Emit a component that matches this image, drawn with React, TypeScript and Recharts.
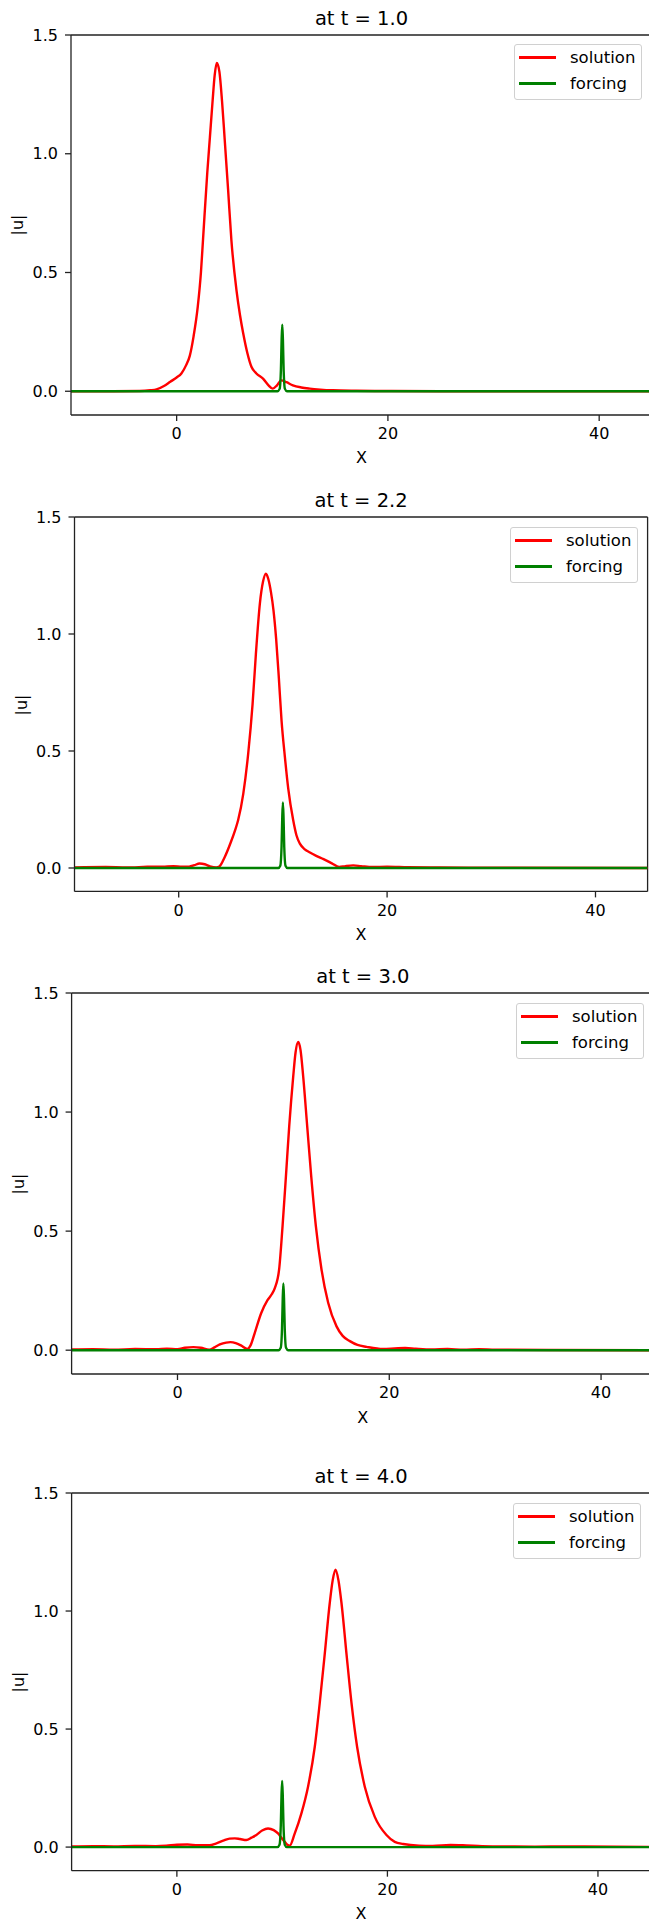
import { LineChart, Line, XAxis, YAxis, ReferenceLine } from 'recharts'

const xTicks = [0, 20, 40]
const yTicks = [0, 0.5, 1.0, 1.5]
const seriesNames = ['solution', 'forcing']
const seriesColors = ['#ff0000', '#008000']
const titles = ['at t = 1.0', 'at t = 2.2', 'at t = 3.0', 'at t = 4.0']

// forcing is the same narrow bump at x = 10 in every panel
const forcingX = [-10, 9.55, 9.75, 9.87, 9.94, 10.0, 10.06, 10.13, 10.25, 10.45, 45]
const forcingU = [0, 0, 0.01, 0.09, 0.22, 0.28, 0.22, 0.09, 0.01, 0, 0]

// t = 1.0
const x1 = [-10, -6, -3.5, -2.5, -1.9, -1.2, -0.6, 0, 0.45, 0.9, 1.25, 1.6, 2.0, 2.3, 2.5, 2.9, 3.15, 3.4, 3.6, 3.8, 4.05, 4.3, 4.55, 4.87, 5.18, 5.66, 6.0, 6.3, 6.7, 7.08, 7.55, 8.2, 8.7, 9.1, 9.5, 9.9, 10.4, 11.0, 11.8, 12.6, 13.6, 14.8, 17, 20, 25, 45]
const u1 = [0, 0, 0.001, 0.004, 0.008, 0.022, 0.04, 0.058, 0.075, 0.11, 0.15, 0.23, 0.356, 0.5, 0.64, 0.92, 1.07, 1.22, 1.33, 1.382, 1.345, 1.22, 1.06, 0.85, 0.638, 0.427, 0.32, 0.244, 0.16, 0.103, 0.075, 0.052, 0.025, 0.011, 0.025, 0.046, 0.038, 0.025, 0.016, 0.011, 0.007, 0.004, 0.002, 0.001, 0, 0]

// t = 2.2
const x2 = [-10, -7, -5, -3, -1.5, -0.5, 0.3, 1.0, 1.5, 2.0, 2.5, 3.0, 3.6, 3.9, 4.4, 5.0, 5.4, 5.7, 6.2, 6.67, 7.09, 7.41, 7.79, 8.1, 8.37, 8.6, 8.85, 9.1, 9.35, 9.6, 9.87, 10.19, 10.51, 10.99, 11.3, 11.63, 12.1, 12.6, 13.2, 13.9, 14.7, 15.4, 16.0, 16.75, 17.5, 18.6, 20, 22, 25, 30, 45]
const u2 = [0.002, 0.004, 0.002, 0.005, 0.006, 0.008, 0.006, 0.006, 0.012, 0.019, 0.016, 0.007, 0.002, 0.006, 0.045, 0.11, 0.16, 0.204, 0.318, 0.489, 0.7, 0.916, 1.13, 1.225, 1.258, 1.235, 1.18, 1.1, 0.98, 0.82, 0.63, 0.475, 0.34, 0.204, 0.14, 0.104, 0.08, 0.066, 0.052, 0.038, 0.02, 0.004, 0.008, 0.011, 0.008, 0.004, 0.005, 0.003, 0.002, 0.001, 0]

// t = 3.0
const x3 = [-10, -8, -6, -4, -2, -1, 0, 0.7, 1.5, 2.2, 3.0, 3.5, 4.0, 4.6, 5.0, 5.5, 6.0, 6.6, 6.9, 7.3, 7.9, 8.5, 8.9, 9.2, 9.6, 9.92, 10.24, 10.55, 10.93, 11.15, 11.4, 11.62, 11.87, 12.25, 12.63, 13.07, 13.6, 14.23, 15.02, 15.6, 16.28, 17.0, 17.86, 19.4, 20.5, 21.5, 22.5, 24, 25.5, 27, 28.5, 30, 35, 45]
const u3 = [0.003, 0.004, 0.002, 0.005, 0.004, 0.006, 0.004, 0.01, 0.013, 0.01, 0.002, 0.012, 0.024, 0.032, 0.034, 0.03, 0.02, 0.005, 0.02, 0.073, 0.155, 0.21, 0.235, 0.262, 0.34, 0.52, 0.73, 0.94, 1.15, 1.25, 1.294, 1.26, 1.15, 0.94, 0.73, 0.52, 0.339, 0.199, 0.1, 0.06, 0.038, 0.022, 0.014, 0.005, 0.007, 0.009, 0.006, 0.003, 0.005, 0.002, 0.004, 0.002, 0.001, 0]

// t = 4.0
const x4 = [-10, -8, -6, -4, -2, -1, 0, 1, 2, 3.1, 3.7, 4.4, 5.0, 5.5, 6.0, 6.6, 7.1, 7.55, 8.1, 8.66, 9.2, 9.61, 10.0, 10.25, 10.5, 10.72, 11.2, 11.83, 12.46, 13.1, 13.57, 14.05, 14.52, 14.8, 15.07, 15.35, 15.64, 16.11, 16.59, 17.12, 17.85, 18.8, 19.91, 20.7, 21.5, 23, 24.3, 26, 27.5, 29, 31, 34, 37, 45]
const u4 = [0.003, 0.004, 0.003, 0.005, 0.004, 0.006, 0.01, 0.011, 0.008, 0.008, 0.015, 0.027, 0.036, 0.037, 0.034, 0.03, 0.04, 0.051, 0.07, 0.079, 0.072, 0.058, 0.035, 0.022, 0.01, 0.006, 0.058, 0.143, 0.256, 0.425, 0.61, 0.82, 1.033, 1.13, 1.175, 1.13, 1.033, 0.82, 0.61, 0.425, 0.256, 0.128, 0.051, 0.022, 0.013, 0.006, 0.005, 0.009, 0.007, 0.004, 0.003, 0.002, 0.003, 0.001]

const solX = [x1, x2, x3, x4]
const solU = [u1, u2, u3, u4]

// axes box of each panel on the page: left, top, right, bottom
const frames = [
  [71, 35, 652, 415],
  [74.5, 517.3, 647.6, 891.7],
  [71.6, 993.3, 654, 1374.3],
  [71.6, 1493.3, 650.6, 1871],
]

const font = '"DejaVu Sans", sans-serif'
const ink = '#222'

const zip = (xs: number[], us: number[]) => xs.map((x, i) => ({ x, u: us[i] }))

function Panel({ idx }: { idx: number }) {
  const [L, T, R, B] = frames[idx]
  const pad = 10
  const axisH = 30
  const cx = (L + R) / 2
  const solution = zip(solX[idx], solU[idx])
  const forcing = zip(forcingX, forcingU)
  const legLeft = Math.round(R - 138)
  const legTop = Math.round(T + 9.3)
  const rows = [13, 39]

  return (
    <>
      <div style={{ position: 'absolute', left: cx, top: T - 16.5, transform: 'translate(-50%, -50%)', fontSize: 19.5, lineHeight: 1, whiteSpace: 'nowrap', color: '#000' }}>
        {titles[idx]}
      </div>
      <div style={{ position: 'absolute', left: 0, top: T - pad }}>
        <LineChart
          width={R + pad}
          height={B - T + pad + axisH}
          margin={{ top: pad, right: pad, left: 0, bottom: 0 }}
          style={{ fontFamily: font }}
        >
          <XAxis
            dataKey="x"
            type="number"
            domain={[-10, 45]}
            ticks={xTicks}
            interval={0}
            allowDataOverflow
            height={axisH}
            tickSize={6}
            tickMargin={7}
            axisLine={{ stroke: ink, strokeWidth: 1.3 }}
            tickLine={{ stroke: ink, strokeWidth: 1.3 }}
            tick={{ fill: '#000', fontSize: 16 }}
          />
          <YAxis
            type="number"
            domain={[-0.1, 1.5]}
            ticks={yTicks}
            interval={0}
            allowDataOverflow
            width={L}
            tickSize={6}
            tickMargin={7}
            tickFormatter={(v: number) => v.toFixed(1)}
            axisLine={{ stroke: ink, strokeWidth: 1.3 }}
            tickLine={{ stroke: ink, strokeWidth: 1.3 }}
            tick={{ fill: '#000', fontSize: 16 }}
          />
          {/* top and right spines */}
          <ReferenceLine y={1.5} stroke={ink} strokeWidth={1.3} ifOverflow="extendDomain" />
          <ReferenceLine x={45} stroke={ink} strokeWidth={1.3} ifOverflow="extendDomain" />
          <Line data={solution} dataKey="u" type="monotone" stroke={seriesColors[0]} strokeWidth={2.4} dot={false} isAnimationActive={false} />
          <Line data={forcing} dataKey="u" type="monotone" stroke={seriesColors[1]} strokeWidth={2.4} dot={false} isAnimationActive={false} />
        </LineChart>
      </div>
      <div style={{ position: 'absolute', left: cx, top: B + 43.3, transform: 'translate(-50%, -50%)', fontSize: 16, lineHeight: 1, color: '#000' }}>
        X
      </div>
      <div style={{ position: 'absolute', left: L - 53, top: (T + B) / 2, transform: 'translate(-50%, -50%) rotate(-90deg)', fontSize: 16, lineHeight: 1, whiteSpace: 'nowrap', color: '#000' }}>
        |u|
      </div>
      <div style={{ position: 'absolute', left: legLeft, top: legTop, width: 128, height: 56, boxSizing: 'border-box', border: '1px solid #d0d0d0', borderRadius: 3, background: 'rgba(255,255,255,0.8)' }}>
        {seriesNames.map((name, i) => (
          <div key={name}>
            <div style={{ position: 'absolute', left: 4, top: rows[i] - 2, width: 37, height: 2.5, background: seriesColors[i] }} />
            <div style={{ position: 'absolute', left: 55, top: rows[i] + 5.5 - 14, fontSize: 16.5, lineHeight: 1, whiteSpace: 'nowrap', color: '#000' }}>
              {name}
            </div>
          </div>
        ))}
      </div>
    </>
  )
}

export default function App() {
  return (
    <div style={{ position: 'absolute', left: 0, top: 0, width: 649, height: 1922, overflow: 'hidden', background: '#fff', fontFamily: font }}>
      {titles.map((_, i) => (
        <Panel key={i} idx={i} />
      ))}
    </div>
  )
}
